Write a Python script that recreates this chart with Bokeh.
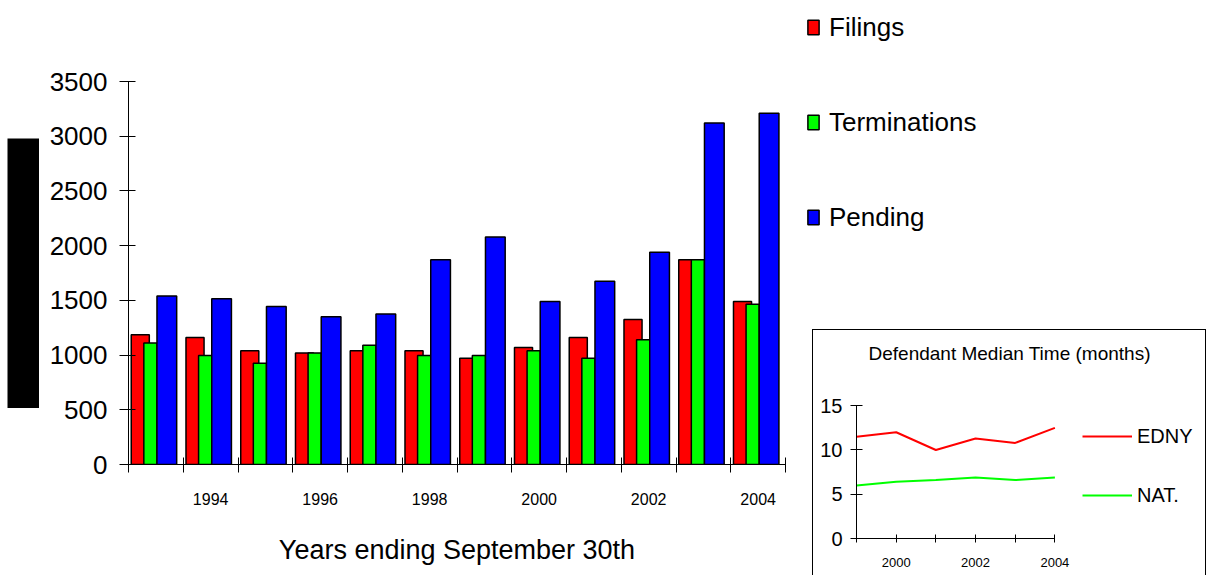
from bokeh.plotting import figure
from bokeh.models import (ColumnDataSource, Range1d, FixedTicker, Legend, LegendItem,
                          Label, Spacer)
from bokeh.layouts import row, column
from bokeh.transform import dodge
from bokeh.embed import file_html
from bokeh.resources import INLINE

# ---------------- data ----------------
years = [1993, 1994, 1995, 1996, 1997, 1998, 1999, 2000, 2001, 2002, 2003, 2004]
filings = [1185, 1160, 1040, 1020, 1040, 1040, 970, 1070, 1160, 1325, 1870, 1490]
terminations = [1110, 995, 925, 1020, 1090, 995, 995, 1040, 970, 1140, 1870, 1465]
pending = [1540, 1515, 1445, 1350, 1375, 1870, 2080, 1490, 1675, 1940, 3120, 3210]
label_years = [1994, 1996, 1998, 2000, 2002, 2004]
tick_labels = ["1994", "1996", "1998", "2000", "2002", "2004"]
y_ticks = [0, 500, 1000, 1500, 2000, 2500, 3000, 3500]

inset_years = [1999, 2000, 2001, 2002, 2003, 2004]
edny = [11.5, 12.0, 10.0, 11.3, 10.8, 12.5]
nat = [6.0, 6.4, 6.6, 6.9, 6.6, 6.9]
inset_labels = {1999: "", 2000: "2000", 2001: "", 2002: "2002", 2003: "", 2004: "2004"}
inset_title = "Defendant Median Time (months)"

SANS = "Liberation Sans"
RED, GREEN, BLUE = "#FF0000", "#00FF00", "#0000FF"

# ---------------- redacted y-axis title (black block) ----------------
bf = figure(width=32, height=270, x_axis_type=None, y_axis_type=None,
            output_backend="svg", toolbar_location=None, min_border=0,
            background_fill_color="black", border_fill_color="black")
bf.outline_line_color = None
left_block = row(Spacer(width=7), column(Spacer(height=138), bf))

# ---------------- main bar chart ----------------
p = figure(width=761, height=576, x_range=Range1d(1992.5, 2004.5), y_range=Range1d(0, 3500),
           output_backend="svg", toolbar_location=None,
           min_border_left=89, min_border_right=15, min_border_top=81, min_border_bottom=112)
p.xgrid.visible = False
p.ygrid.visible = False
p.outline_line_color = None

src = ColumnDataSource(dict(year=years, filings=filings, terminations=terminations, pending=pending))
p.vbar(x=dodge("year", -0.285, range=p.x_range), top="filings", width=0.33, source=src,
       fill_color=RED, line_color="black", line_width=1.5)
p.vbar(x=dodge("year", -0.10, range=p.x_range), top="terminations", width=0.24, source=src,
       fill_color=GREEN, line_color="black", line_width=1.5)
p.vbar(x=dodge("year", 0.20, range=p.x_range), top="pending", width=0.36, source=src,
       fill_color=BLUE, line_color="black", line_width=1.5)

p.yaxis.ticker = FixedTicker(ticks=y_ticks)
p.yaxis.major_tick_in = 7
p.yaxis.major_tick_out = 9
p.yaxis.minor_tick_in = 0
p.yaxis.minor_tick_out = 0
p.yaxis.major_label_standoff = 12
p.yaxis.major_label_text_font = SANS
p.yaxis.major_label_text_font_size = "26px"
p.yaxis.major_label_text_color = "black"
p.yaxis.axis_line_color = "black"
p.yaxis.major_tick_line_color = "black"

p.xaxis.ticker = FixedTicker(ticks=label_years, minor_ticks=[y - 0.5 for y in years] + [years[-1] + 0.5])
p.xaxis.major_label_overrides = {y: l for y, l in zip(label_years, tick_labels)}
p.xaxis.major_tick_in = 0
p.xaxis.major_tick_out = 0
p.xaxis.minor_tick_in = 7
p.xaxis.minor_tick_out = 8
p.xaxis.minor_tick_line_color = "black"
p.xaxis.axis_line_color = "black"
p.xaxis.major_label_text_font = SANS
p.xaxis.major_label_text_font_size = "16px"
p.xaxis.major_label_text_color = "black"
p.xaxis.major_label_standoff = 20
p.xaxis.axis_label = "Years ending September 30th"
p.xaxis.axis_label_text_font = SANS
p.xaxis.axis_label_text_font_size = "27px"
p.xaxis.axis_label_text_font_style = "normal"
p.xaxis.axis_label_text_color = "black"
p.xaxis.axis_label_standoff = 27

# ---------------- legend figure ----------------
lf = figure(width=405, height=329, x_range=Range1d(0, 1), y_range=Range1d(0, 1),
            x_axis_type=None, y_axis_type=None,
            output_backend="svg", toolbar_location=None,
            min_border_left=0, min_border_right=0, min_border_top=0, min_border_bottom=0)
lf.outline_line_color = None
r1 = lf.vbar(x="year", top="filings", width=1, source=src, fill_color=RED,
             line_color="black", line_width=1.5, visible=False)
r2 = lf.vbar(x="year", top="terminations", width=1, source=src, fill_color=GREEN,
             line_color="black", line_width=1.5, visible=False)
r3 = lf.vbar(x="year", top="pending", width=1, source=src, fill_color=BLUE,
             line_color="black", line_width=1.5, visible=False)
leg = Legend(items=[LegendItem(label="Filings", renderers=[r1]),
                    LegendItem(label="Terminations", renderers=[r2]),
                    LegendItem(label="Pending", renderers=[r3])],
             location="top_left", glyph_width=14, glyph_height=18, label_height=42,
             spacing=53, padding=0, margin=6, label_standoff=9,
             label_text_font=SANS, label_text_font_size="26px", label_text_color="black",
             border_line_color=None, background_fill_alpha=0, inactive_fill_alpha=0)
lf.add_layout(leg)

# ---------------- inset line chart ----------------
ip = figure(width=394, height=246, x_range=Range1d(1999, 2007.67), y_range=Range1d(0, 23.5),
            output_backend="svg", toolbar_location=None,
            min_border_left=43, min_border_right=7, min_border_top=0, min_border_bottom=38,
            margin=(0, 0, 0, 12))
ip.styles = {"border-top": "1px solid black", "border-left": "1px solid black",
             "border-right": "1px solid black"}
ip.xgrid.visible = False
ip.ygrid.visible = False
ip.outline_line_color = None

l1 = ip.line(inset_years, edny, line_color=RED, line_width=2)
l2 = ip.line(inset_years, nat, line_color=GREEN, line_width=2)

ip.add_layout(Label(x=inset_years[0], y=20.9, x_offset=12, text=inset_title,
                    text_font=SANS, text_font_size="19px", text_color="black",
                    text_baseline="middle", text_align="left"))

ip.yaxis.ticker = FixedTicker(ticks=[0, 5, 10, 15])
ip.yaxis.bounds = (0, 15)
ip.yaxis.major_tick_in = 6
ip.yaxis.major_tick_out = 6
ip.yaxis.minor_tick_in = 0
ip.yaxis.minor_tick_out = 0
ip.yaxis.major_label_standoff = 8
ip.yaxis.major_label_text_font = SANS
ip.yaxis.major_label_text_font_size = "20px"
ip.yaxis.major_label_text_color = "black"
ip.yaxis.axis_line_color = "black"

ip.xaxis.ticker = FixedTicker(ticks=inset_years)
ip.xaxis.bounds = (1999, 2004)
ip.xaxis.major_label_overrides = inset_labels
ip.xaxis.major_tick_in = 4
ip.xaxis.major_tick_out = 4
ip.xaxis.minor_tick_in = 0
ip.xaxis.minor_tick_out = 0
ip.xaxis.major_label_standoff = 15
ip.xaxis.major_label_text_font = SANS
ip.xaxis.major_label_text_font_size = "13px"
ip.xaxis.major_label_text_color = "black"
ip.xaxis.axis_line_color = "black"

ileg = Legend(items=[LegendItem(label="EDNY", renderers=[l1]),
                     LegendItem(label="NAT.", renderers=[l2])],
              location=(226, 29), glyph_width=50, glyph_height=20, label_height=28,
              spacing=31, padding=0, margin=0, label_standoff=5,
              label_text_font=SANS, label_text_font_size="20px", label_text_color="black",
              border_line_color=None, background_fill_alpha=0)
ip.add_layout(ileg)

layout = row(left_block, p, column(row(lf), row(ip)))
open("out.html", "w").write(file_html(layout, INLINE))
